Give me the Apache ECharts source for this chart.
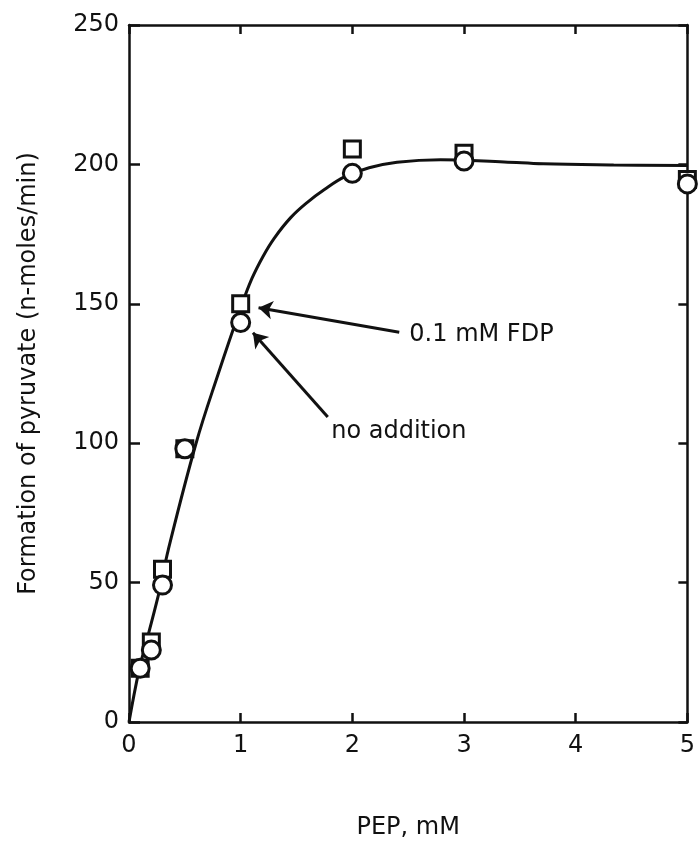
<!DOCTYPE html>
<html>
<head>
<meta charset="utf-8">
<script src="https://cdn.jsdelivr.net/npm/echarts@6/dist/echarts.min.js"></script>
<style>
html,body{margin:0;padding:0;background:#fff;}
#chart{width:698px;height:845px;}
</style>
</head>
<body>
<div id="chart"></div>
<script>
// PEP concentration (mM) of measured points
var pepX = [0.1, 0.2, 0.3, 0.5, 1, 2, 3, 5];
// 0.1 mM FDP (squares)
var fdpY = [19.3, 28.7, 54.8, 98, 150, 205.5, 204, 194.6];
// no addition (circles)
var noAddY = [19.3, 25.8, 49.1, 98, 143.3, 196.8, 201.2, 193];
// fitted curve drawn through the points
var curveX = [0, 0.09, 0.16, 0.28, 0.35, 0.6, 0.8, 1.0, 1.1, 1.2, 1.3, 1.45, 1.6, 1.75, 1.93, 2.15, 2.4, 2.79, 3.36, 3.71, 4.34, 5];
var curveY = [0, 18.6, 29.4, 48.3, 61.5, 99.9, 125, 148.5, 159, 167, 173.5, 181, 186.5, 191, 195.5, 198.8, 200.8, 201.7, 200.9, 200.2, 199.8, 199.6];
// tick labels
var xTicks = [0, 1, 2, 3, 4, 5];
var yTicks = [0, 50, 100, 150, 200, 250];
// annotation arrows [from, to] in data coordinates
var arrowFdp = [[2.42, 139.8], [1.16, 148.6]];
var arrowNoAdd = [[1.78, 109.4], [1.11, 139.6]];
var labelFdp = [2.51, 138.8];
var labelNoAdd = [1.81, 104];

var INK = '#111';
var FONT = 'DejaVu Sans';

function zip(xs, ys) { return xs.map(function (x, i) { return [x, ys[i]]; }); }

var chart = echarts.init(document.getElementById('chart'), null, {renderer: 'canvas'});

var axisLineStyle = {color: INK, width: 2.5};
var option = {
  backgroundColor: '#fff',
  animation: false,
  grid: {left: 129, right: 6, top: 25, bottom: 121, containLabel: false},
  xAxis: [{
    type: 'value', min: 0, max: 5, interval: 1, position: 'bottom',
    name: 'PEP, mM', nameLocation: 'middle', nameGap: 94,
    nameTextStyle: {fontFamily: FONT, fontSize: 24, color: INK},
    axisLine: {show: true, onZero: false, lineStyle: axisLineStyle},
    axisTick: {show: true, inside: true, length: 9, lineStyle: {color: INK, width: 2.5}},
    axisLabel: {show: true, margin: 12, fontFamily: FONT, fontSize: 24, color: INK,
      formatter: function (v) { return xTicks.indexOf(v) >= 0 ? String(v) : ''; }},
    splitLine: {show: false}
  }, {
    type: 'value', min: 0, max: 5, interval: 1, position: 'top',
    axisLine: {show: true, onZero: false, lineStyle: axisLineStyle},
    axisTick: {show: true, inside: true, length: 9, lineStyle: {color: INK, width: 2.5}},
    axisLabel: {show: false}, splitLine: {show: false}
  }],
  yAxis: [{
    type: 'value', min: 0, max: 250, interval: 50, position: 'left',
    name: 'Formation of pyruvate (n-moles/min)', nameLocation: 'middle', nameGap: 88, nameRotate: 90,
    nameTextStyle: {fontFamily: FONT, fontSize: 24, color: INK},
    axisLine: {show: true, onZero: false, lineStyle: axisLineStyle},
    axisTick: {show: true, inside: true, length: 11, lineStyle: {color: INK, width: 2.5}},
    axisLabel: {show: true, margin: 10, fontFamily: FONT, fontSize: 24, color: INK,
      formatter: function (v) { return yTicks.indexOf(v) >= 0 ? String(v) : ''; }},
    splitLine: {show: false}
  }, {
    type: 'value', min: 0, max: 250, interval: 50, position: 'right',
    axisLine: {show: true, onZero: false, lineStyle: axisLineStyle},
    axisTick: {show: true, inside: true, length: 9, lineStyle: {color: INK, width: 2.5}},
    axisLabel: {show: false}, splitLine: {show: false}
  }],
  series: [{
    name: 'curve', type: 'line', data: zip(curveX, curveY),
    showSymbol: false, symbol: 'none', smooth: 0.4,
    lineStyle: {color: INK, width: 3}, z: 2, clip: false,
    markLine: {
      silent: true, symbol: ['none', 'arrow'], symbolSize: 14,
      lineStyle: {color: INK, width: 3, type: 'solid', opacity: 1},
      itemStyle: {color: INK},
      label: {show: false},
      data: [
        [{coord: arrowFdp[0]}, {coord: arrowFdp[1]}],
        [{coord: arrowNoAdd[0]}, {coord: arrowNoAdd[1]}]
      ]
    },
    markPoint: {
      silent: true, symbol: 'circle', symbolSize: 0.1,
      itemStyle: {color: 'rgba(0,0,0,0)'},
      label: {show: true, position: 'right', distance: 0, fontFamily: FONT, fontSize: 24, color: INK},
      data: [
        {coord: labelFdp, label: {formatter: '0.1 mM FDP'}},
        {coord: labelNoAdd, label: {formatter: 'no addition'}}
      ]
    }
  }, {
    name: '0.1 mM FDP', type: 'scatter', data: zip(pepX, fdpY),
    symbol: 'rect', symbolSize: 16, clip: false,
    itemStyle: {color: '#fff', borderColor: INK, borderWidth: 3, opacity: 1}, z: 3
  }, {
    name: 'no addition', type: 'scatter', data: zip(pepX, noAddY),
    symbol: 'circle', symbolSize: 18, clip: false,
    itemStyle: {color: '#fff', borderColor: INK, borderWidth: 3, opacity: 1}, z: 4
  }]
};
chart.setOption(option);
</script>
</body>
</html>
